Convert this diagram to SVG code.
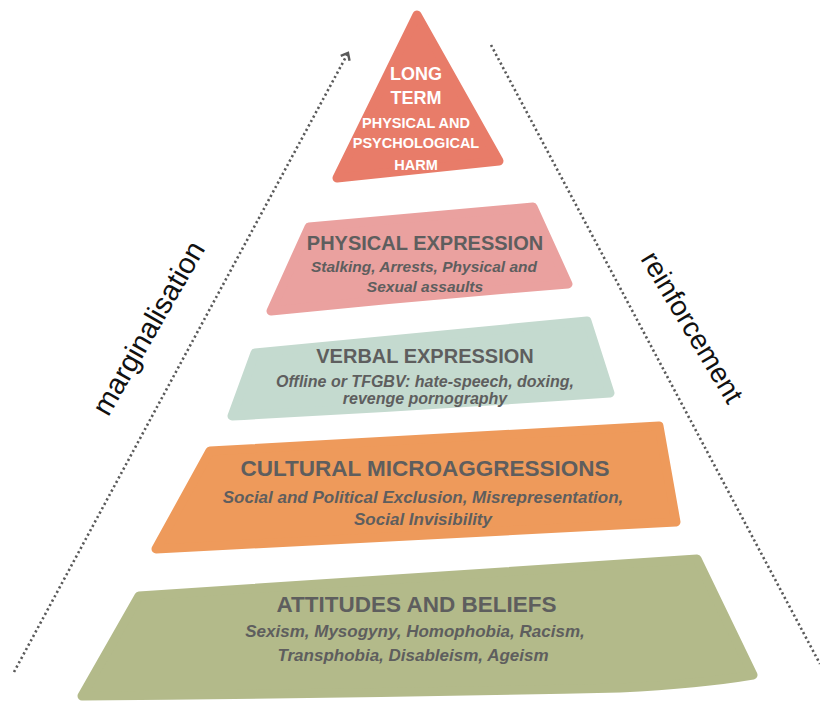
<svg xmlns="http://www.w3.org/2000/svg" width="820" height="702" viewBox="0 0 820 702">
<defs>
<style>
.shape{stroke-linejoin:round;stroke-width:9}
.t{font-family:"Liberation Sans",Arial,sans-serif;font-weight:bold;fill:#5E5E5E;text-anchor:middle}
.s{font-family:"Liberation Sans",Arial,sans-serif;font-weight:bold;font-style:italic;fill:#5E5E5E;text-anchor:middle}
.w{font-family:"Liberation Sans",Arial,sans-serif;font-weight:bold;fill:#FFFFFF;text-anchor:middle}
.side{font-family:"Liberation Sans",Arial,sans-serif;fill:#111111;text-anchor:middle}
.dot{fill:none;stroke:#5A5A5A;stroke-width:2.6;stroke-dasharray:2.2 2.8}
</style>
<marker id="arr" markerUnits="userSpaceOnUse" markerWidth="14" markerHeight="14" refX="9" refY="6" orient="auto">
<path d="M3,1 L9,6 L3,11" fill="none" stroke="#5A5A5A" stroke-width="2.4"/>
</marker>
</defs>
<rect width="820" height="702" fill="#FFFFFF"/>

<g id="connectors">
<line class="dot" x1="14" y1="672" x2="348" y2="53" marker-end="url(#arr)"/>
<line class="dot" x1="491" y1="45" x2="820" y2="664"/>
</g>

<g id="label-marginalisation">
<text class="side" font-size="29" transform="translate(157,333) rotate(-60)">marginalisation</text>
</g>
<g id="label-reinforcement">
<text class="side" font-size="28" transform="translate(684,332) rotate(59)">reinforcement</text>
</g>

<g id="long-term">
<path class="shape" d="M417,15 L499,161 L337,178 Z" fill="#E87C69" stroke="#E87C69"/>
<text class="w" x="416" y="80" font-size="18">LONG</text>
<text class="w" x="416" y="104" font-size="18">TERM</text>
<text class="w" x="416" y="128" font-size="14.5">PHYSICAL AND</text>
<text class="w" x="416" y="148" font-size="14.5">PSYCHOLOGICAL</text>
<text class="w" x="416" y="170" font-size="14.5">HARM</text>
</g>

<g id="physical-expression">
<path class="shape" d="M309,227 L533,207 L568,284 Q420,296 271,311 Z" fill="#EAA19F" stroke="#EAA19F"/>
<text class="t" x="425" y="250" font-size="20">PHYSICAL EXPRESSION</text>
<text class="s" x="424" y="272" font-size="15.5">Stalking, Arrests, Physical and</text>
<text class="s" x="425" y="292" font-size="15.5">Sexual assaults</text>
</g>

<g id="verbal-expression">
<path class="shape" d="M255,353 L587,321 L610,393 Q420,406 232,416 Z" fill="#C4DACF" stroke="#C4DACF"/>
<text class="t" x="425" y="363" font-size="20">VERBAL EXPRESSION</text>
<text class="s" x="425" y="387" font-size="16">Offline or TFGBV: hate-speech, doxing,</text>
<text class="s" x="425" y="404" font-size="16">revenge pornography</text>
</g>

<g id="cultural-microaggressions">
<path class="shape" d="M210,451 L659,426 L676,522 Q420,536 156,549 Z" fill="#EE9A5B" stroke="#EE9A5B"/>
<text class="t" x="425" y="476" font-size="22.5">CULTURAL MICROAGGRESSIONS</text>
<text class="s" x="423" y="502.5" font-size="17">Social and Political Exclusion, Misrepresentation,</text>
<text class="s" x="423" y="525" font-size="17">Social Invisibility</text>
</g>

<g id="attitudes-and-beliefs">
<path class="shape" d="M139,596 L697,559 L753,675 Q700,684 620,688 Q350,694 82,696 Z" fill="#B3BA8A" stroke="#B3BA8A"/>
<text class="t" x="416.5" y="611.5" font-size="22.5">ATTITUDES AND BELIEFS</text>
<text class="s" x="415" y="637" font-size="17">Sexism, Mysogyny, Homophobia, Racism,</text>
<text class="s" x="413" y="661" font-size="17">Transphobia, Disableism, Ageism</text>
</g>
</svg>
